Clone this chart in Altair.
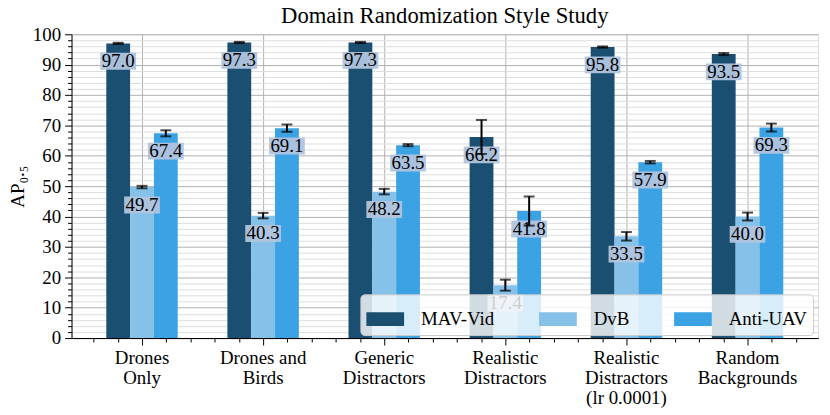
import altair as alt
import pandas as pd

title_text = "Domain Randomization Style Study"
categories = ["Drones\nOnly", "Drones and\nBirds", "Generic\nDistractors",
              "Realistic\nDistractors", "Realistic\nDistractors\n(lr 0.0001)",
              "Random\nBackgrounds"]
series = ["MAV-Vid", "DvB", "Anti-UAV"]
mav_vid = [97.0, 97.3, 97.3, 66.2, 95.8, 93.5]
dvb = [49.7, 40.3, 48.2, 17.4, 33.5, 40.0]
anti_uav = [67.4, 69.1, 63.5, 41.8, 57.9, 69.3]
mav_vid_err = [0.2, 0.2, 0.2, 5.6, 0.2, 0.35]
dvb_err = [0.4, 0.9, 0.9, 1.8, 1.4, 1.3]
anti_uav_err = [1.0, 1.2, 0.35, 4.8, 0.4, 1.3]
colors = ["#1b4f72", "#85c1e9", "#3ba3e3"]

rows = []
for vals, errs, s in [(mav_vid, mav_vid_err, "MAV-Vid"), (dvb, dvb_err, "DvB"),
                      (anti_uav, anti_uav_err, "Anti-UAV")]:
    for c, v, e in zip(categories, vals, errs):
        rows.append({"category": c, "series": s, "value": v, "lo": v - e,
                     "hi": v + e, "label": f"{v:.1f}"})
df = pd.DataFrame(rows)

FONT = "Liberation Serif"
W, H = 752, 306
PI = 0.41
STEP = 122.0
PO = ((W / STEP) - 6 + PI) / 2
first_center = PO * STEP + STEP * (1 - PI) / 2
umin = -first_center / STEP
umax = (W - first_center) / STEP
minor_vals = [round(-0.4 + 0.2 * k, 4) for k in range(0, 30)]
minor_vals = [v for v in minor_vals if abs(v - round(v)) > 0.01]

x_axis = alt.Axis(orient="bottom", labelExpr="split(datum.label, '\\n')", labelFont=FONT,
                  labelFontSize=19, labelColor="black", labelLineHeight=20,
                  labelPadding=4, labelAngle=0, labelLimit=0, labelOverlap=False,
                  ticks=True, tickSize=7, tickColor="black", tickWidth=1,
                  grid=True, gridColor="#b0b0b0", gridWidth=1,
                  domain=True, domainColor="black", bandPosition=0.5)
x_enc = alt.X("category:N", sort=categories, title=None,
              scale=alt.Scale(paddingInner=PI, paddingOuter=PO), axis=x_axis)
xo_enc = alt.XOffset("series:N", sort=series,
                     scale=alt.Scale(paddingInner=0, paddingOuter=0))

y_axis = alt.Axis(values=list(range(0, 101, 2)),
                  labelExpr="datum.value % 10 === 0 ? datum.label : ''",
                  labelOverlap=False, labelFont=FONT, labelFontSize=19,
                  labelColor="black", labelPadding=4,
                  tickSize={"condition": {"test": "datum.value % 10 === 0", "value": 7}, "value": 4},
                  tickColor="black", tickWidth=1,
                  grid=True,
                  gridColor={"condition": {"test": "datum.value % 10 === 0", "value": "#b0b0b0"}, "value": "#dedede"},
                  gridWidth=1, domain=True, domainColor="black",
                  titleFont=FONT, titleFontSize=19, titleFontWeight="normal",
                  titleColor="black", titlePadding=5)
y_scale = alt.Scale(domain=[0, 100], nice=False)
YTITLE = "AP₀.₅"


def yq(field):
    return alt.Y(f"{field}:Q", stack=None, title=YTITLE, scale=y_scale, axis=y_axis)


base = alt.Chart(df)

bars = base.mark_bar().encode(
    x=x_enc, xOffset=xo_enc, y=yq("value"),
    color=alt.Color("series:N", sort=series,
                    scale=alt.Scale(domain=series, range=colors),
                    legend=alt.Legend(title=None, orient="none", legendX=291, legendY=262,
                                      direction="horizontal",
                                      symbolType="M-1,-0.368H1V0.368H-1Z", symbolSize=1444,
                                      symbolStrokeWidth=0, symbolOpacity=1,
                                      labelFont=FONT, labelFontSize=19, labelColor="black",
                                      labelOffset=17, columnPadding=45, padding=6,
                                      fillColor="rgba(255,255,255,0.8)", strokeColor="#cccccc",
                                      cornerRadius=4, labelLimit=0)),
)

boxes = base.mark_bar(width=36, yOffset=9.5, y2Offset=26.5, color="#b0c4de",
                      opacity=0.95).encode(
    x=x_enc, xOffset=xo_enc, y=yq("value"), y2=alt.Y2("value:Q"))

rules = base.mark_rule(color="black", strokeWidth=2).encode(
    x=x_enc, xOffset=xo_enc, y=yq("lo"), y2=alt.Y2("hi:Q"))
caps_lo = base.mark_tick(color="black", thickness=2, size=11).encode(
    x=x_enc, xOffset=xo_enc, y=yq("lo"))
caps_hi = base.mark_tick(color="black", thickness=2, size=11).encode(
    x=x_enc, xOffset=xo_enc, y=yq("hi"))

texts = base.mark_text(dy=18, font=FONT, fontSize=19, color="black",
                       baseline="middle").encode(
    x=x_enc, xOffset=xo_enc, y=yq("value"), text="label:N")

title_mark = alt.Chart(pd.DataFrame({"t": [title_text]})).mark_text(
    font=FONT, fontSize=22.8, color="black", align="center", baseline="alphabetic"
).encode(x=alt.value(W / 2), y=alt.value(-11), text="t:N")

main = alt.layer(bars, boxes, rules, caps_lo, caps_hi, texts, title_mark)

minor = base.transform_calculate(u="0").mark_point(opacity=0).encode(
    x=alt.X("u:Q", title=None,
            scale=alt.Scale(domain=[umin, umax], nice=False, zero=False),
            axis=alt.Axis(orient="bottom", values=minor_vals, labels=False, grid=False,
                          domain=True, domainColor="black", ticks=True, tickSize=4,
                          tickColor="black", tickWidth=1, zindex=1)))

chart = alt.layer(main, minor).resolve_scale(
    x="independent"
).properties(
    width=W, height=H,
    padding={"left": 64, "top": 25, "right": 4, "bottom": 70},
    autosize=alt.AutoSizeParams(type="none"),
).configure_view(stroke="black", strokeWidth=1).configure(background="white")

chart.save("out.html", embed_options={"renderer": "svg", "actions": False})
